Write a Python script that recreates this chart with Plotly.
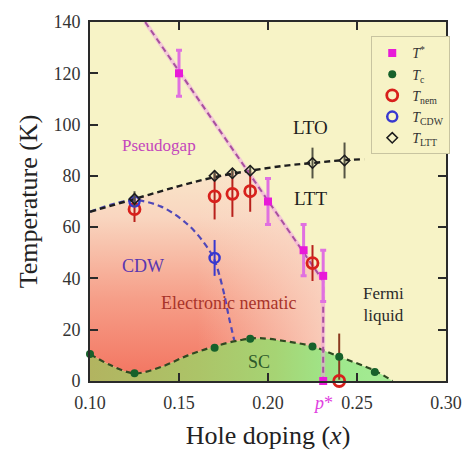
import plotly.graph_objects as go

# ---- measured points ----
tstar_x = [0.15, 0.20, 0.22, 0.231, 0.231]
tstar_y = [120, 70, 51, 41, 0]
tstar_err = [9, 9, 10, 10, 0]

tc_x = [0.10, 0.125, 0.17, 0.19, 0.225, 0.24, 0.26]
tc_y = [10.5, 3, 13, 16.5, 13.5, 9.5, 3.5]
tc_err = [0, 0, 0, 0, 0, 9, 0]

tnem_x = [0.125, 0.17, 0.18, 0.19, 0.225, 0.24]
tnem_y = [67, 72, 73, 74, 46, 0]
tnem_err = [5, 9, 9, 8, 7, 0]

tcdw_x = [0.125, 0.17]
tcdw_y = [70, 48]
tcdw_err = [2, 7]

tltt_x = [0.125, 0.17, 0.18, 0.19, 0.225, 0.243]
tltt_y = [71, 80, 81, 82, 85, 86]
tltt_err = [3, 2, 2, 2, 6, 7]

# ---- guide curves (hand-drawn boundaries) ----
dome_x = [0.10, 0.112, 0.125, 0.14, 0.155, 0.17, 0.185, 0.195, 0.21, 0.225, 0.24, 0.26, 0.27]
dome_y = [10.5, 6, 3, 5.5, 10, 13.5, 16, 16.7, 15.5, 13.5, 9.5, 4, 0]

ltt_line_x = [0.10, 0.125, 0.15, 0.17, 0.19, 0.21, 0.225, 0.24, 0.254]
ltt_line_y = [66, 71, 76, 79.5, 82, 84, 85, 86, 86.5]

cdw_line_x = [0.10, 0.113, 0.125, 0.14, 0.155, 0.165, 0.17, 0.175, 0.178, 0.181]
cdw_line_y = [66, 69, 70.5, 68, 61, 53, 47, 35, 25, 16]

tstar_line_x = [0.131, 0.231, 0.231]
tstar_line_y = [140, 39, 0]

# nematic region: upper edge follows T_LTT then T*, lower edge follows the SC dome
nem_top_x = [0.10, 0.125, 0.15, 0.17, 0.189, 0.20, 0.21, 0.22, 0.231, 0.231]
nem_top_y = [66, 71, 76, 79.5, 81.8, 70.5, 60.5, 50.3, 39, 12]
nem_bot_x = [0.10, 0.112, 0.125, 0.14, 0.155, 0.17, 0.185, 0.195, 0.21, 0.225, 0.231]
nem_bot_y = [10.5, 6, 3, 5.5, 10, 13.5, 16, 16.7, 15.5, 13.5, 12]

SERIF = "Liberation Serif"
BG = "#f7f3c6"

fig = go.Figure()

# SC dome
fig.add_trace(go.Scatter(
    x=dome_x, y=dome_y, mode="lines", line=dict(width=0, shape="spline"),
    fill="tozeroy",
    fillgradient=dict(type="horizontal", start=0.10, stop=0.27,
                      colorscale=[[0, "rgb(178,180,96)"], [0.35, "rgb(172,196,104)"],
                                  [0.6, "rgb(166,212,116)"], [0.8, "rgb(158,232,140)"],
                                  [1, "rgb(166,236,150)"]]),
    hoverinfo="skip", showlegend=False))

# electronic nematic region (vertical shading)
fig.add_trace(go.Scatter(x=nem_bot_x, y=nem_bot_y, mode="lines",
                         line=dict(width=0, shape="spline"), hoverinfo="skip", showlegend=False))
fig.add_trace(go.Scatter(
    x=nem_top_x, y=nem_top_y, mode="lines", line=dict(width=0, shape="spline", smoothing=0.6),
    fill="tonexty",
    fillgradient=dict(type="vertical", start=5, stop=85,
                      colorscale=[[0, "rgb(243,120,100)"], [0.35, "rgb(246,158,136)"],
                                  [0.75, "rgb(249,214,192)"], [1, "rgb(249,232,202)"]]),
    hoverinfo="skip", showlegend=False))
# fade towards the right
fig.add_trace(go.Scatter(x=nem_bot_x, y=nem_bot_y, mode="lines",
                         line=dict(width=0, shape="spline"), hoverinfo="skip", showlegend=False))
fig.add_trace(go.Scatter(
    x=nem_top_x, y=nem_top_y, mode="lines", line=dict(width=0, shape="spline", smoothing=0.6),
    fill="tonexty",
    fillgradient=dict(type="horizontal", start=0.10, stop=0.231,
                      colorscale=[[0, "rgba(250,224,206,0)"], [0.45, "rgba(250,224,206,0)"],
                                  [1, "rgba(250,222,204,0.8)"]]),
    hoverinfo="skip", showlegend=False))

# guide lines
fig.add_trace(go.Scatter(x=dome_x, y=dome_y, mode="lines",
                         line=dict(color="#2f4a22", width=2.2, dash="6px,4px", shape="spline"),
                         hoverinfo="skip", showlegend=False))
fig.add_trace(go.Scatter(x=cdw_line_x, y=cdw_line_y, mode="lines",
                         line=dict(color="#5048b8", width=2.2, dash="6px,4px", shape="spline"),
                         hoverinfo="skip", showlegend=False))
fig.add_trace(go.Scatter(x=ltt_line_x, y=ltt_line_y, mode="lines",
                         line=dict(color="#1e1e1e", width=2.4, dash="6px,4px", shape="spline"),
                         hoverinfo="skip", showlegend=False))
fig.add_trace(go.Scatter(x=tstar_line_x, y=tstar_line_y, mode="lines",
                         line=dict(color="rgba(240,160,230,0.5)", width=4),
                         hoverinfo="skip", showlegend=False))
fig.add_trace(go.Scatter(x=tstar_line_x, y=tstar_line_y, mode="lines",
                         line=dict(color="#a8509e", width=2, dash="6px,4px"),
                         hoverinfo="skip", showlegend=False))

# data points
fig.add_trace(go.Scatter(
    x=tstar_x, y=tstar_y, mode="markers", name="<i>T</i><sup>*</sup>",
    marker=dict(symbol="square", size=8, color="#e81ad8"),
    error_y=dict(type="data", array=tstar_err, color="#e070e0", thickness=3, width=3),
    cliponaxis=False))
fig.add_trace(go.Scatter(
    x=tc_x, y=tc_y, mode="markers", name="<i>T</i><sub>c</sub>",
    marker=dict(symbol="circle", size=8, color="#17612b"),
    error_y=dict(type="data", array=tc_err, color="#8a3a20", thickness=2, width=0),
    cliponaxis=False))
fig.add_trace(go.Scatter(
    x=tnem_x, y=tnem_y, mode="markers", name="<i>T</i><sub>nem</sub>",
    marker=dict(symbol="circle-open", size=11, color="#d8201c", line=dict(width=2.8)),
    error_y=dict(type="data", array=tnem_err, color="#b8201c", thickness=2, width=0),
    cliponaxis=False))
fig.add_trace(go.Scatter(
    x=tcdw_x, y=tcdw_y, mode="markers", name="<i>T</i><sub>CDW</sub>",
    marker=dict(symbol="circle-open", size=10, color="#3838d0", line=dict(width=2.5)),
    error_y=dict(type="data", array=tcdw_err, color="#3838d0", thickness=2, width=0),
    cliponaxis=False))
fig.add_trace(go.Scatter(
    x=tltt_x, y=tltt_y, mode="markers", name="<i>T</i><sub>LTT</sub>",
    marker=dict(symbol="diamond-open", size=8, color="#1e1e1e", line=dict(width=1.6)),
    error_y=dict(type="data", array=tltt_err, color="#555544", thickness=2, width=0),
    cliponaxis=False))

# region labels
labels = [
    ("Pseudogap", 0.1385, 92, "#c446bc", 17),
    ("LTO", 0.224, 99, "#1e1e1e", 19),
    ("LTT", 0.224, 71, "#1e1e1e", 19),
    ("CDW", 0.130, 45, "#5a36b0", 18),
    ("Electronic nematic", 0.178, 30.5, "#a8342a", 18),
    ("Fermi<br>liquid", 0.265, 30, "#2a2a2a", 17),
    ("SC", 0.195, 7.5, "#2d5a2a", 18),
]
for txt, lx, ly, col, sz in labels:
    fig.add_annotation(x=lx, y=ly, text=txt, showarrow=False,
                       font=dict(family=SERIF, size=sz, color=col))

fig.add_annotation(x=0.231, y=-0.06, yref="paper", yanchor="middle",
                   text="<i>p</i>*", showarrow=False,
                   font=dict(family=SERIF, size=18, color="#e040e0"))

axis_common = dict(showgrid=False, zeroline=False, ticks="inside", ticklen=8,
                   tickwidth=2, tickcolor="#2a2a2a", showline=True, linewidth=2,
                   linecolor="#2a2a2a", mirror="ticks",
                   tickfont=dict(family=SERIF, size=18, color="#333"))

fig.update_xaxes(range=[0.10, 0.30], tickvals=[0.10, 0.15, 0.20, 0.25, 0.30],
                 tickformat=".2f", ticklabelstandoff=4,
                 title=dict(text="Hole doping (<i>x</i>)", standoff=14,
                            font=dict(family=SERIF, size=26, color="#222")),
                 **axis_common)
fig.update_yaxes(range=[0, 140], tickvals=[0, 20, 40, 60, 80, 100, 120, 140],
                 ticklabelstandoff=4,
                 title=dict(text="Temperature (K)", standoff=8,
                            font=dict(family=SERIF, size=26, color="#222")),
                 **axis_common)

fig.update_layout(
    width=474, height=463,
    margin=dict(l=90, r=20, t=18, b=82),
    paper_bgcolor="white", plot_bgcolor=BG,
    legend=dict(x=0.79, y=0.96, xanchor="left", yanchor="top",
                bgcolor=BG, bordercolor="#c8c4a0", borderwidth=1,
                font=dict(family=SERIF, size=14, color="#333"),
                itemwidth=30, tracegroupgap=0, traceorder="normal"),
)

fig.write_html("out.html")
